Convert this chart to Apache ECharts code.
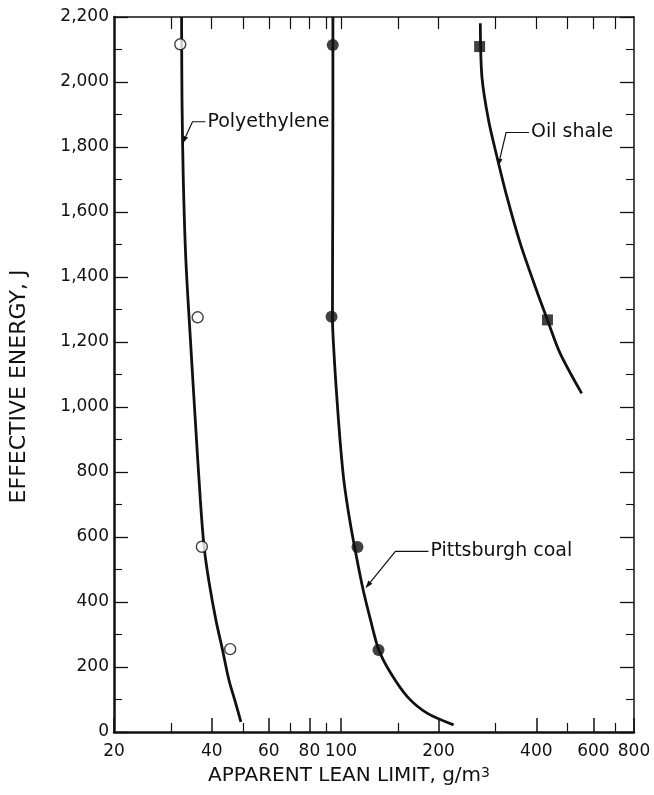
<!DOCTYPE html>
<html>
<head>
<meta charset="UTF-8">
<title>Apparent lean limit vs effective energy</title>
<script src="https://cdn.jsdelivr.net/npm/echarts@6/dist/echarts.min.js"></script>
<style>
  html, body { margin: 0; padding: 0; background: #fff; }
  #main { width: 654px; height: 795px; }
</style>
</head>
<body>
<div id="main"></div>
<script>
// traces: [apparent lean limit g/m3, effective energy J]
var polyCurve = [[32.3,2200],[32.4,1945],[32.7,1698],[33.3,1452],[34.4,1206],[35.6,960],[36.9,714],[37.9,569],[39.3,458],[41.2,345],[43.2,252],[45.2,160],[47.4,89],[49.2,31]];
var polyPoints = [[32.0,2116],[36.2,1276],[37.3,570],[45.6,255]];
var coalCurve = [[94.5,2200],[94.5,1945],[94.4,1637],[94.2,1277],[95.5,1145],[97.3,1022],[99.4,898],[102.1,775],[105.6,674],[109.6,582],[116.6,446],[123.4,345],[130.9,252],[142.2,182],[160.4,108],[184.3,58],[222.5,22]];
var coalPoints = [[94.4,2114],[93.6,1278],[112.5,569],[130.6,252]];
var shaleCurve = [[268.9,2181],[272,2016],[285,1883],[302.6,1770],[324.7,1647],[356.8,1504],[397,1370],[433,1268],[473.8,1165],[552,1042]];
var shalePoints = [[267.6,2109],[433,1268]];

// axis ticks
var xLabelVals = [20,40,60,80,100,200,400,600,800];
var xMinorVals = [30,50,70,90,150,300,500,700];
var xTopVals = [30,40,50,60,70,80,90,100,150,200,300,400,500,600,700];

// callouts: name, point on the curve it points at
var callouts = [
  { text: 'Polyethylene', at: [32.5, 1810], dx: 10, dy: -22, run: 23 },
  { text: 'Pittsburgh coal', at: [119, 442], dx: 30, dy: -37, run: 63 },
  { text: 'Oil shale', at: [305, 1740], dx: 8, dy: -34, run: 31 }
];

var font = 'DejaVu Sans';
var ink = '#111';

var chart = echarts.init(document.getElementById('main'));

function commas(v) {
  return String(v).replace(/\B(?=(\d{3})+(?!\d))/g, ',');
}

function xAxisBase(pos) {
  return {
    type: 'log', logBase: 10, min: 20, max: 800, position: pos,
    splitLine: { show: false },
    axisLine: { show: false },
    axisLabel: { show: false },
    axisTick: { show: false }
  };
}

var xBottom = xAxisBase('bottom');
xBottom.axisLine = { show: true, lineStyle: { color: ink, width: 2.5 } };
xBottom.axisTick = { show: true, inside: true, length: 14, customValues: xLabelVals, lineStyle: { color: ink, width: 1.5 } };
xBottom.axisLabel = { show: true, customValues: xLabelVals, margin: 11, color: ink, fontFamily: font, fontSize: 17 };
xBottom.name = 'APPARENT LEAN LIMIT, g/m{sup|3}';
xBottom.nameLocation = 'middle';
xBottom.nameGap = 34;
xBottom.nameTextStyle = { color: ink, fontFamily: font, fontSize: 20, padding: [0, 50, 0, 0], rich: { sup: { fontFamily: font, fontSize: 14, verticalAlign: 'top', color: ink } } };

var xBottomMinor = xAxisBase('bottom');
xBottomMinor.axisTick = { show: true, inside: true, length: 9, customValues: xMinorVals, lineStyle: { color: ink, width: 1.2 } };

var xTop = xAxisBase('top');
xTop.axisLine = { show: true, lineStyle: { color: ink, width: 1.5 } };
xTop.axisTick = { show: true, inside: true, length: 12, customValues: xTopVals, lineStyle: { color: ink, width: 1.2 } };

function yAxisBase(pos) {
  return {
    type: 'value', min: 0, max: 2200, interval: 200, position: pos,
    splitLine: { show: false },
    axisLine: { show: true, onZero: false, lineStyle: { color: ink, width: pos === 'left' ? 2.5 : 1.5 } },
    axisTick: { show: true, inside: true, length: 14, lineStyle: { color: ink, width: 1.3 } },
    minorTick: { show: true, splitNumber: 2, length: 8, lineStyle: { color: ink, width: 1.1 } },
    axisLabel: { show: false }
  };
}

var yLeft = yAxisBase('left');
yLeft.axisLabel = { show: true, margin: 5, color: ink, fontFamily: font, fontSize: 17, formatter: commas };
yLeft.name = 'EFFECTIVE ENERGY, J';
yLeft.nameLocation = 'middle';
yLeft.nameRotate = 90;
yLeft.nameGap = 84;
yLeft.nameTextStyle = { color: ink, fontFamily: font, fontSize: 22, padding: [0, 24, 0, 0] };

var yRight = yAxisBase('right');

function curve(name, data) {
  return {
    name: name, type: 'line', data: data, smooth: 0.3,
    showSymbol: false, symbol: 'none',
    lineStyle: { color: ink, width: 2.8 },
    z: 2, silent: true
  };
}

function marks(name, data, symbol, size, hollow) {
  return {
    name: name, type: 'scatter', data: data, symbol: symbol, symbolSize: size,
    itemStyle: hollow ? { color: '#fff', borderColor: ink, borderWidth: 1.4 } : { color: ink },
    z: 3
  };
}

chart.setOption({
  animation: false,
  backgroundColor: '#fff',
  grid: { left: 113, right: 20, top: 17, bottom: 63 },
  xAxis: [xBottom, xBottomMinor, xTop],
  yAxis: [yLeft, yRight],
  series: [
    curve('Polyethylene', polyCurve),
    curve('Pittsburgh coal', coalCurve),
    curve('Oil shale', shaleCurve),
    marks('Polyethylene data', polyPoints, 'circle', 11, true),
    marks('Pittsburgh coal data', coalPoints, 'circle', 12, false),
    marks('Oil shale data', shalePoints, 'rect', 11, false)
  ]
});

// callout labels with leader arrows, anchored on the curves
var g = [];
callouts.forEach(function (c) {
  var tip = chart.convertToPixel({ seriesIndex: 0 }, c.at);
  var elbow = [tip[0] + c.dx, tip[1] + c.dy];
  var end = [tip[0] + c.run, elbow[1]];
  var vx = tip[0] - elbow[0], vy = tip[1] - elbow[1];
  var len = Math.sqrt(vx * vx + vy * vy);
  vx /= len; vy /= len;
  var b = [tip[0] - vx * 8, tip[1] - vy * 8];
  g.push({ type: 'polyline', shape: { points: [end, elbow, b] }, style: { stroke: ink, lineWidth: 1.2, fill: null }, z: 10 });
  g.push({ type: 'polygon', shape: { points: [tip, [b[0] - vy * 2.6, b[1] + vx * 2.6], [b[0] + vy * 2.6, b[1] - vx * 2.6]] }, style: { fill: ink }, z: 10 });
  g.push({ type: 'text', x: end[0] + 2, y: end[1], style: { text: c.text, fill: ink, font: '19px "DejaVu Sans"', verticalAlign: 'middle', align: 'left' }, z: 10 });
});
chart.setOption({ graphic: g });
</script>
</body>
</html>
